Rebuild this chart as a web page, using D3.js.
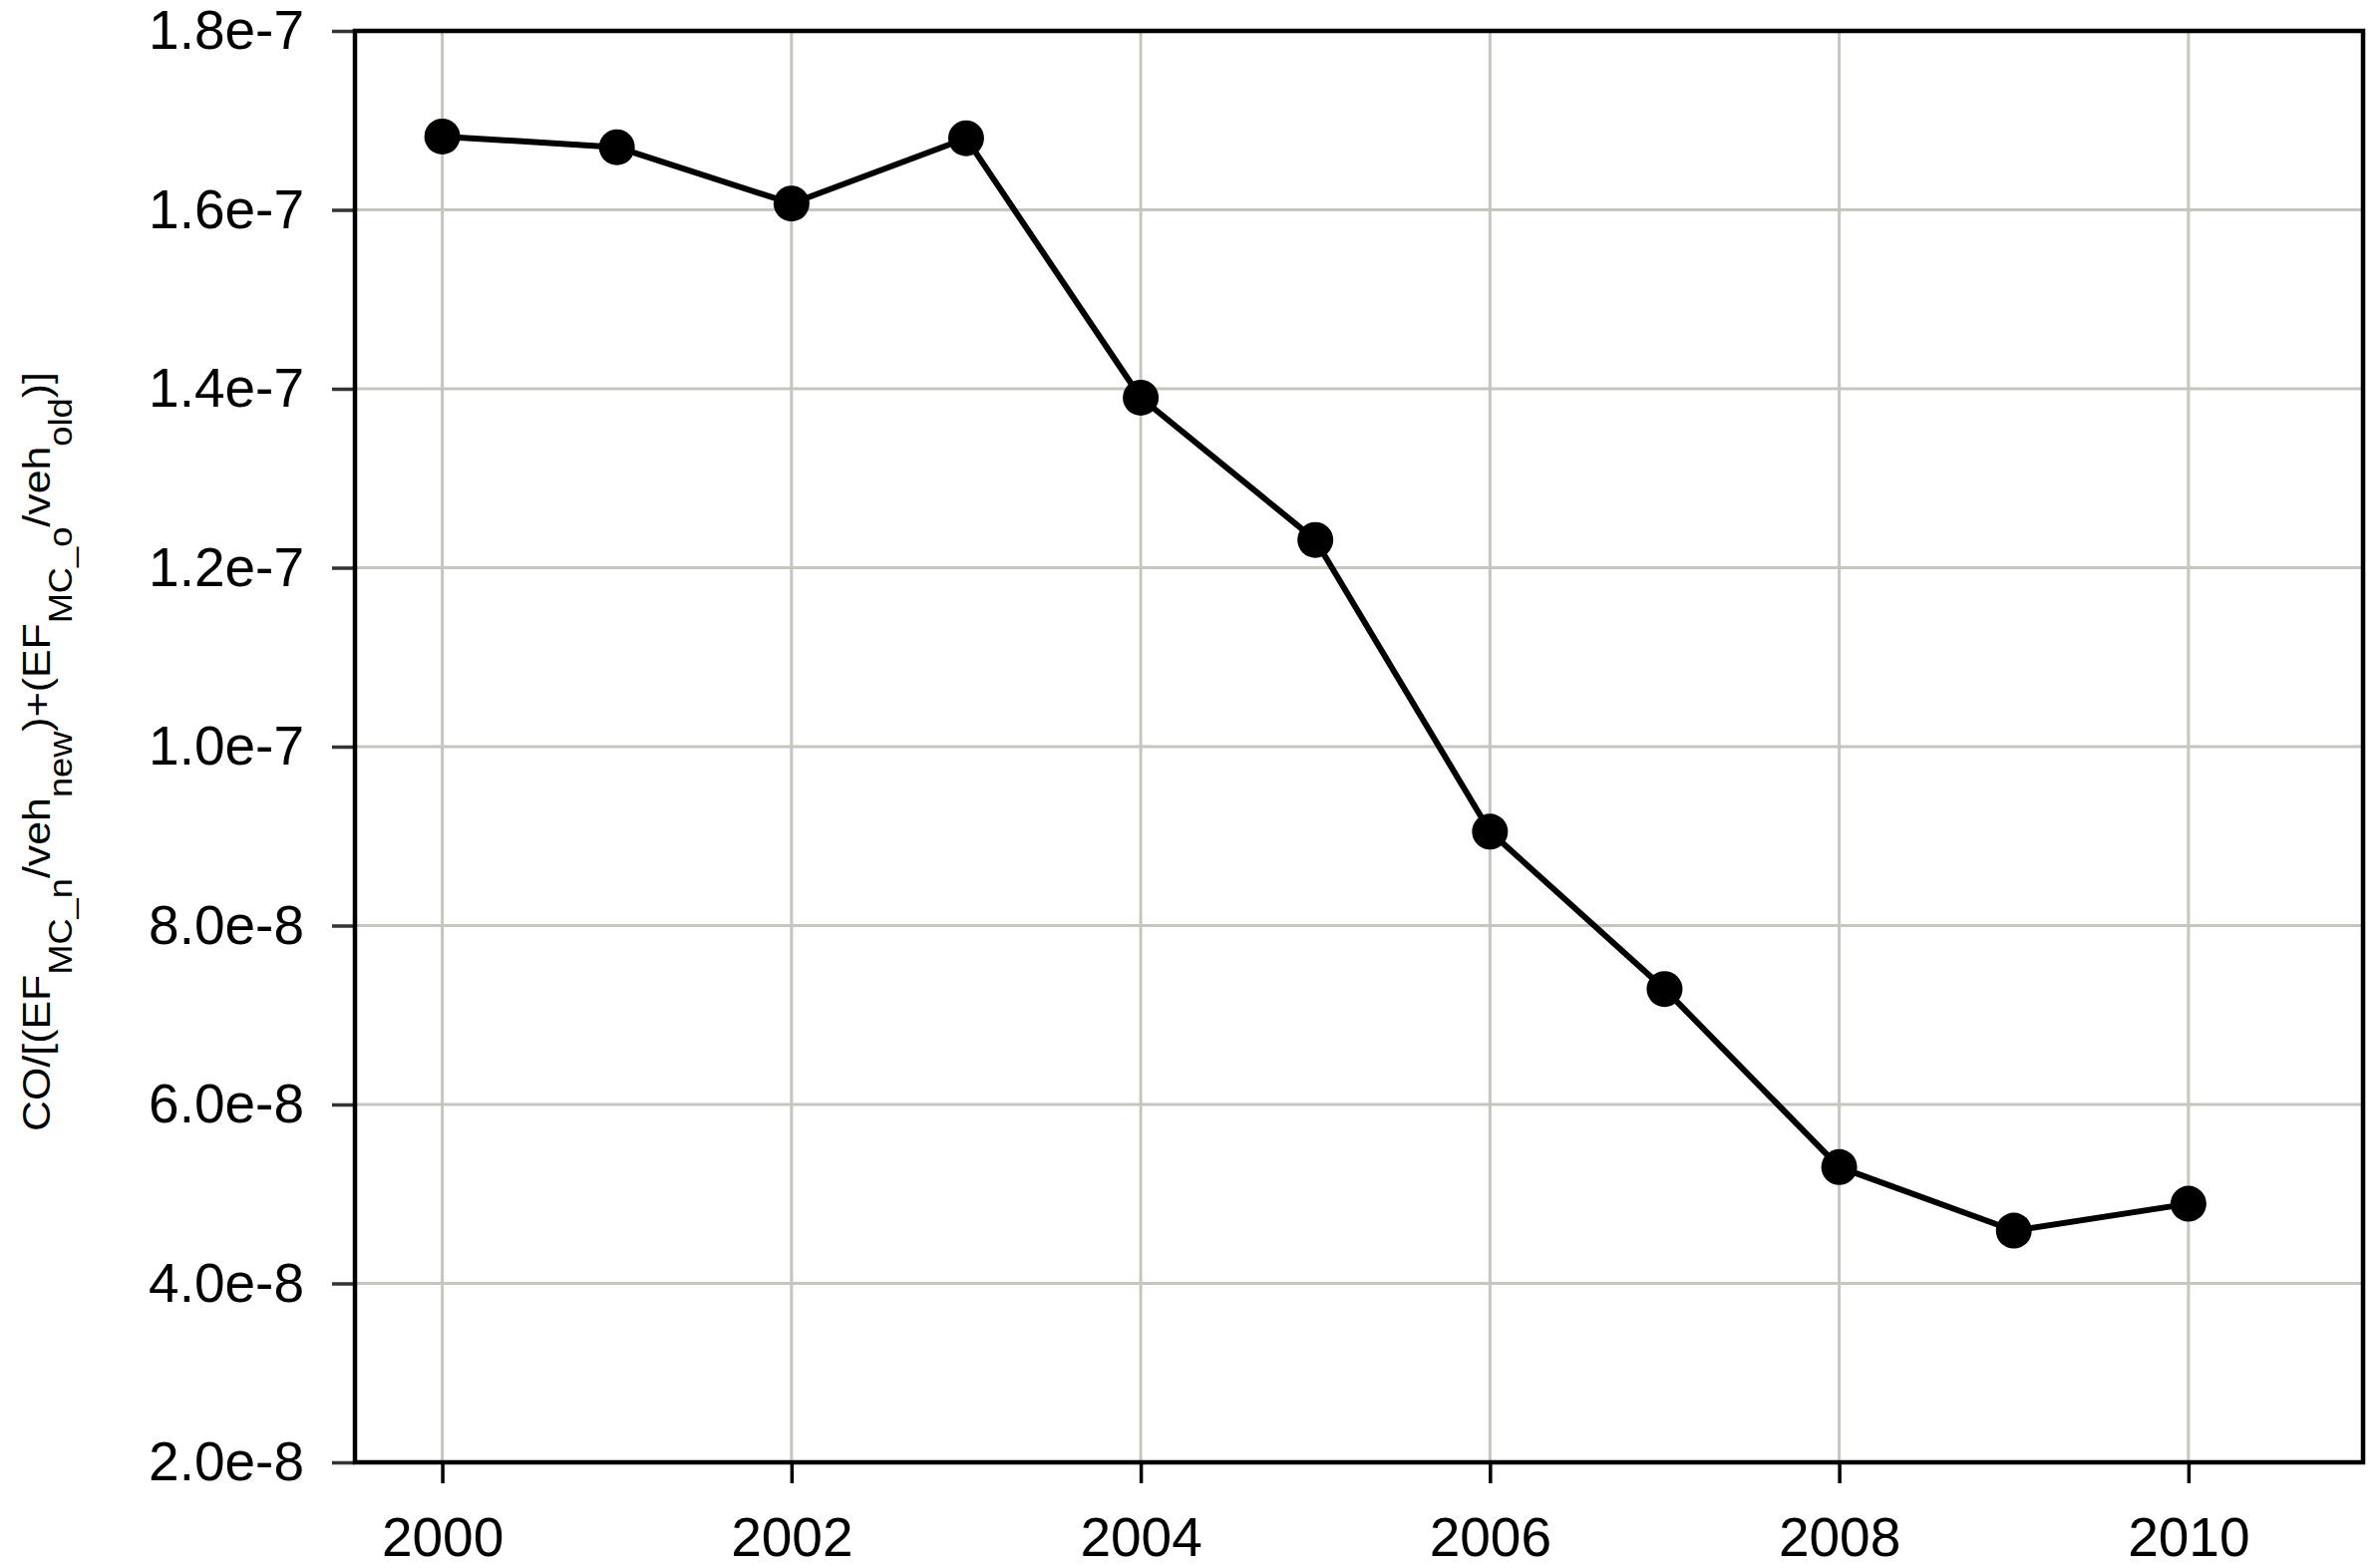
<!DOCTYPE html>
<html>
<head>
<meta charset="utf-8">
<script src="https://cdn.jsdelivr.net/npm/d3@7"></script>
<style>
  html, body { margin: 0; padding: 0; background: #fff; }
  svg { display: block; }
  text { font-family: "Liberation Sans", Arial, sans-serif; fill: #000; }
</style>
</head>
<body>
<svg id="chart" width="2387" height="1573"></svg>
<script>
// ---- data ----
const years = [2000, 2001, 2002, 2003, 2004, 2005, 2006, 2007, 2008, 2009, 2010];
const values = [1.682e-7, 1.670e-7, 1.607e-7, 1.680e-7, 1.390e-7, 1.231e-7, 9.05e-8, 7.29e-8, 5.30e-8, 4.59e-8, 4.89e-8];
const xTicks = [2000, 2002, 2004, 2006, 2008, 2010];
const yTicks = [2e-8, 4e-8, 6e-8, 8e-8, 1e-7, 1.2e-7, 1.4e-7, 1.6e-7, 1.8e-7];
const xDomain = [1999.5, 2011];
const yDomain = [2e-8, 1.8e-7];
// y title pieces: [text, isSubscript]
const titleParts = [
  ["CO/[(EF", false], ["MC_n", true], ["/veh", false], ["new", true],
  [")+(EF", false], ["MC_o", true], ["/veh", false], ["old", true], [")]", false]
];

// ---- layout ----
const L = 356, R = 2370, T = 31, B = 1467;
const svg = d3.select("#chart");
const x = d3.scaleLinear().domain(xDomain).range([L, R]);
const y = d3.scaleLinear().domain(yDomain).range([B, T]);

const gridColor = "#c6c6be";

// grid
svg.append("g").selectAll("line.v").data(xTicks).join("line")
  .attr("x1", d => x(d)).attr("x2", d => x(d)).attr("y1", T).attr("y2", B)
  .attr("stroke", gridColor).attr("stroke-width", 3);
svg.append("g").selectAll("line.h").data(yTicks).join("line")
  .attr("x1", L).attr("x2", R).attr("y1", d => y(d)).attr("y2", d => y(d))
  .attr("stroke", gridColor).attr("stroke-width", 3);

// axes
const fmt = d3.format(".1e");
const xAxis = d3.axisBottom(x).tickValues(xTicks).tickSize(21).tickPadding(34).tickFormat(d3.format("d"));
const yAxis = d3.axisLeft(y).tickValues(yTicks).tickSize(23).tickPadding(28).tickFormat(fmt);

const gx = svg.append("g").attr("transform", `translate(0,${B})`).call(xAxis);
const gy = svg.append("g").attr("transform", `translate(${L},0)`).call(yAxis);
[gx, gy].forEach(g => {
  g.select(".domain").remove();
  g.selectAll(".tick line").attr("stroke", "#000").attr("stroke-width", 3.5);
  g.selectAll(".tick text").attr("font-size", 55).attr("font-family", "Liberation Sans, Arial, sans-serif").attr("fill", "#111");
});
gy.selectAll(".tick line").attr("stroke", "#333");

// frame
svg.append("rect").attr("x", L).attr("y", T).attr("width", R - L).attr("height", B - T)
  .attr("fill", "none").attr("stroke", "#000").attr("stroke-width", 4.5);

// line
const line = d3.line().x((d, i) => x(years[i])).y(d => y(d));
svg.append("path").datum(values).attr("d", line)
  .attr("fill", "none").attr("stroke", "#000").attr("stroke-width", 6).attr("stroke-linejoin", "round");

svg.append("g").selectAll("circle").data(values).join("circle")
  .attr("cx", (d, i) => x(years[i])).attr("cy", d => y(d)).attr("r", 18).attr("fill", "#000");

// y title
const titleCenterY = 754, titleBaseX = 50, targetLen = 762;
const tg = svg.append("g");
const title = tg.append("text").attr("font-size", 39).attr("fill", "#111");
let prevSub = false;
titleParts.forEach(([t, sub]) => {
  let dy = 0;
  if (sub && !prevSub) dy = 22;
  if (!sub && prevSub) dy = -22;
  title.append("tspan")
    .attr("font-size", sub ? 33 : 39)
    .attr("dy", dy)
    .text(t);
  prevSub = sub;
});
const len = title.node().getComputedTextLength();
const sx = targetLen / len;
title.attr("text-anchor", "middle");
tg.attr("transform", `translate(${titleBaseX},${titleCenterY}) rotate(-90) scale(${sx},1)`);
</script>
</body>
</html>
